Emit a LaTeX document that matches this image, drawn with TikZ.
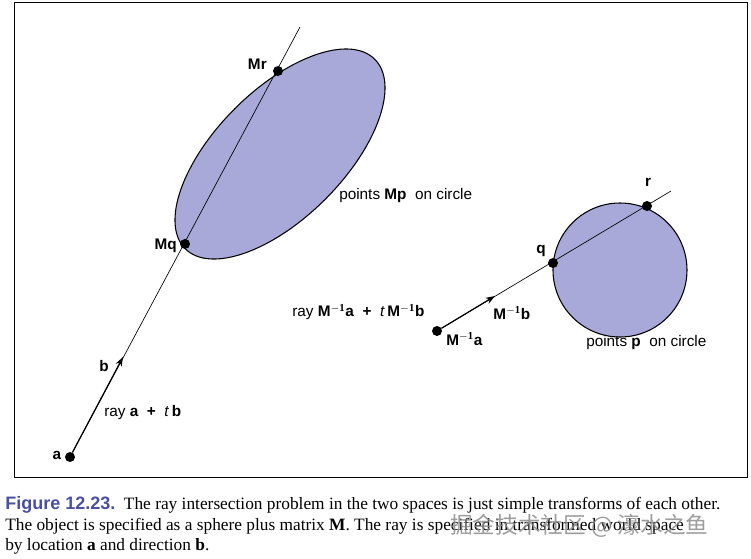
\documentclass[tikz,border=0pt]{standalone}
\usepackage{fontspec}
\setmainfont{Liberation Serif}
\setsansfont{Liberation Sans}
\newfontfamily\cjk{Noto Sans CJK SC}
\usetikzlibrary{arrows.meta}
\definecolor{fillc}{HTML}{A9A9D9}
\definecolor{figblue}{HTML}{4A50A0}
\begin{document}
\begin{tikzpicture}[x=0.75pt,y=-0.75pt,
  lbl/.style={font=\sffamily\fontsize{11.5}{13}\selectfont,inner sep=0pt},
  dotc/.style={circle,fill=black,inner sep=0pt,minimum size=7.5pt},
  captext/.style={font=\fontsize{13}{15}\selectfont,inner sep=0pt,anchor=west},
  arr/.style={-{Stealth[length=7pt,width=5pt]},line width=0.9pt}]
\useasboundingbox (0,0) rectangle (751,558);
\node[draw,line width=0.6pt,minimum width=733*0.75pt,minimum height=475*0.75pt,anchor=north west,inner sep=0pt] (frame) at (14,2) {};
% ellipse
\draw[fill=fillc,line width=0.8pt,rotate around={45:(280,154)}] (280,154) ellipse [x radius=134, y radius=64];
\coordinate (top) at (300,27);
\node[dotc] (a) at (70,457) {};
\node[dotc] (Mq) at (185,244) {};
\node[dotc] (Mr) at (278,71) {};
\draw[line width=0.5pt] (a) -- (top);
\coordinate (bt) at (123,357);
\draw[arr] (a) -- (bt);
% circle
\draw[fill=fillc,line width=0.8pt] (620,270) circle [radius=67];
\coordinate (end2) at (671,191);
\node[dotc] (Ma) at (437,331) {};
\node[dotc] (q) at (553,263) {};
\node[dotc] (r) at (647,206) {};
\draw[line width=0.5pt] (Ma) -- (end2);
\coordinate (bt2) at (495,296);
\draw[arr] (Ma) -- (bt2);
% labels
\node[lbl,anchor=east] (lMr) at (267,64) {\textbf{Mr}};
\node[lbl,anchor=east] (lMq) at (177,246) {\textbf{Mq}};
\node[lbl,anchor=west] (lMp) at (339,196) {points \textbf{Mp}\ \ on circle};
\node[lbl] (lr) at (648,182) {\textbf{r}};
\node[lbl] (lq) at (541,251) {\textbf{q}};
\node[lbl,anchor=west] (lray2) at (292,312) {ray \textbf{M}$^{\mathbf{-1}}$\textbf{a}\ \ \textbf{+}\ \ \textit{t}\,\textbf{M}$^{\mathbf{-1}}$\textbf{b}};
\node[lbl,anchor=west] (lb2) at (493,313) {\textbf{M}$^{\mathbf{-1}}$\textbf{b}};
\node[lbl,anchor=west] (la2) at (446,339) {\textbf{M}$^{\mathbf{-1}}$\textbf{a}};
\node[lbl,anchor=west] (lp) at (586,343) {points \textbf{p}\ \ on circle};
\node[lbl] (lb) at (104,366) {\textbf{b}};
\node[lbl,anchor=west] (lray) at (104,413) {ray \textbf{a}\ \ \textbf{+}\ \ \textit{t}\,\textbf{b}};
\node[lbl] (la) at (57,455) {\textbf{a}};
% caption
\node[captext] (c1) at (5,505) {{\sffamily\bfseries\color{figblue}\fontsize{13.5}{15}\selectfont Figure 12.23.}\ \ The ray intersection problem in the two spaces is just simple transforms of each other.};
\node[captext] (c2) at (5,526) {The object is specified as a sphere plus matrix \textbf{M}. The ray is specified in transformed world space};
\node[captext] (c3) at (5,546) {by location \textbf{a} and direction \textbf{b}.};
\node[inner sep=0pt,anchor=west,font=\cjk\fontsize{17}{18}\selectfont,text=black!45,opacity=0.85] (wm) at (450,526) {掘金技术社区 @ 濠水之鱼};
\end{tikzpicture}
\end{document}
